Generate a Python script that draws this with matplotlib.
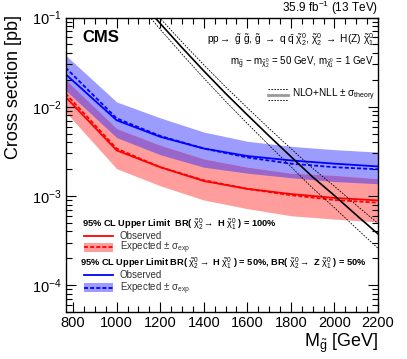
import numpy as np
import matplotlib
matplotlib.use("Agg")
import matplotlib.pyplot as plt
from matplotlib.ticker import MultipleLocator, LogLocator, NullFormatter, FixedLocator, FuncFormatter

plt.rcParams['font.family'] = ['Liberation Sans', 'DejaVu Sans']
plt.rcParams['mathtext.fontset'] = 'custom'
plt.rcParams['mathtext.rm'] = 'Liberation Sans'
plt.rcParams['mathtext.it'] = 'Liberation Sans'
plt.rcParams['mathtext.bf'] = 'Liberation Sans:bold'

# ---- data ----
mass = [765, 1000, 1200, 1400, 1600, 1800, 2000, 2200]

# BR(chi2 -> H chi1) = 100%  (red)
red_obs = [0.0129, 0.00324, 0.0021, 0.00147, 0.0012, 0.00105, 0.00095, 0.00089]
red_exp = [0.0141, 0.00339, 0.0021, 0.0015, 0.0012, 0.00102, 0.0009, 0.00084]
red_up = [0.0202, 0.00569, 0.0037, 0.0026, 0.0021, 0.0018, 0.0017, 0.00156]
red_dn = [0.00875, 0.00202, 0.0013, 0.0009, 0.00072, 0.0006, 0.00055, 0.00051]

# BR 50% / 50%  (blue)
blue_obs = [0.0232, 0.00705, 0.0046, 0.0034, 0.0028, 0.0025, 0.0023, 0.00214]
blue_exp = [0.0275, 0.0074, 0.0047, 0.0034, 0.0027, 0.0023, 0.0021, 0.00199]
blue_up = [0.0379, 0.0113, 0.0075, 0.0052, 0.0041, 0.0036, 0.0033, 0.0031]
blue_dn = [0.0153, 0.00451, 0.0029, 0.0021, 0.0018, 0.0016, 0.00145, 0.00137]

# gluino pair NLO+NLL cross section
th_mass = [1150, 1200, 1300, 1400, 1500, 1600, 1700, 1800, 1900, 2000, 2100, 2200]
th_xsec = [0.118, 0.0856, 0.0460, 0.0252, 0.0141, 0.0081, 0.0047, 0.00276, 0.00163, 0.00101, 0.000612, 0.000375]
th_unc = [0.13, 0.14, 0.155, 0.17, 0.185, 0.20, 0.215, 0.23, 0.25, 0.27, 0.29, 0.31]

x_ticks = [800, 1000, 1200, 1400, 1600, 1800, 2000, 2200]

# ---- figure ----
W, H = 407, 359
fig = plt.figure(figsize=(W / 100, H / 100), dpi=100)
L, R, T, B = 65.5, 378, 17.5, 312
ax = fig.add_axes([L / W, 1 - B / H, (R - L) / W, (B - T) / H])

m = np.array(mass, float)
rdn, rup = np.array(red_dn), np.array(red_up)
bdn, bup = np.array(blue_dn), np.array(blue_up)

c_blue_band = '#9c9cff'
c_red_band = '#ff9c9c'
c_overlap = '#9966cc'

ax.fill_between(m, bdn, bup, color=c_blue_band, lw=0)
ax.fill_between(m, rdn, rup, color=c_red_band, lw=0)
ov_lo = np.maximum(rdn, bdn)
ov_hi = np.minimum(rup, bup)
ax.fill_between(m, ov_lo, ov_hi, where=ov_hi > ov_lo, color=c_overlap, lw=0)

ax.plot(m, blue_exp, color='#0000ff', lw=1.3, ls=(0, (2.2, 1.2)))
ax.plot(m, blue_obs, color='#0000ff', lw=1.3)
ax.plot(m, red_exp, color='#ff0000', lw=1.3, ls=(0, (2.2, 1.2)))
ax.plot(m, red_obs, color='#ff0000', lw=1.3)

tm = np.array(th_mass, float)
tx = np.array(th_xsec)
tu = np.array(th_unc)
ax.plot(tm, tx, color='black', lw=1.2)
ax.plot(tm, tx * (1 + tu), color='black', lw=0.6, ls=(0, (2, 1.5)))
ax.plot(tm, tx * (1 - tu), color='black', lw=0.6, ls=(0, (2, 1.5)))

ax.set_yscale('log')
ax.set_xlim(765, 2200)
ax.set_ylim(5e-5, 0.1)

ax.xaxis.set_major_locator(FixedLocator(x_ticks))
ax.xaxis.set_minor_locator(MultipleLocator(50))
ax.yaxis.set_major_locator(LogLocator(base=10, numticks=10))
ax.yaxis.set_minor_locator(LogLocator(base=10, subs=np.arange(2, 10), numticks=20))
ax.yaxis.set_minor_formatter(NullFormatter())
ax.yaxis.set_major_formatter(FuncFormatter(lambda v, p: r'$10^{%d}$' % int(round(np.log10(v)))))
ax.tick_params(which='both', direction='in', top=True, right=True, labelsize=10.5, pad=3)
ax.tick_params(which='major', length=7, width=0.8)
ax.tick_params(which='minor', length=4, width=0.8)
for s in ax.spines.values():
    s.set_linewidth(1.0)

fig.text(14 / W, 1 - 15 / H, 'Cross section [pb]', rotation=90, ha='center', va='top', fontsize=13)
fig.text(R / W, 1 - 347 / H, r'M$_{\tilde{g}}$ [GeV]', ha='right', va='baseline', fontsize=13)
fig.text(R / W, 1 - 12 / H, r'35.9 fb$^{-1}$ (13 TeV)', ha='right', va='baseline', fontsize=8.5)

def tx_(x, y, s, **kw):
    fig.text(x / W, 1 - y / H, s, **kw)

tx_(82, 37, 'CMS', fontsize=12, fontweight='bold', va='center', ha='left')
tx_(374, 40, r'pp$\rightarrow$ $\tilde{g}$ $\tilde{g}$, $\tilde{g}$ $\rightarrow$ q $\bar{q}$ $\tilde{\chi}^0_2$, $\tilde{\chi}^0_2$ $\rightarrow$ H(Z) $\tilde{\chi}^0_1$',
    fontsize=7.3, ha='right', va='center')
tx_(374, 62, r'm$_{\tilde{g}}$ $-$ m$_{\tilde{\chi}^0_2}$ = 50 GeV, m$_{\tilde{\chi}^0_1}$ = 1 GeV',
    fontsize=7.0, ha='right', va='center')

# theory legend
for yy, ls, lw, col in [(89, (0, (2, 1.5)), 0.6, 'black'), (94.5, '-', 2.0, '#999999'), (99.5, (0, (2, 1.5)), 0.6, 'black')]:
    fig.add_artist(plt.Line2D([268 / W, 288 / W], [1 - yy / H, 1 - yy / H], color=col, lw=lw, ls=ls))
tx_(292, 94.5, r'NLO+NLL $\pm$ $\sigma_{\mathrm{theory}}$', fontsize=7.2, ha='left', va='center')

# bottom legend
tx_(81.5, 224, r'95% CL Upper Limit  BR( $\tilde{\chi}^0_2$$\rightarrow$ H $\tilde{\chi}^0_1$ ) = 100%',
    fontsize=6.7, fontweight='bold', ha='left', va='center')
tx_(80.5, 263, r'95% CL Upper Limit BR( $\tilde{\chi}^0_2$$\rightarrow$ H $\tilde{\chi}^0_1$ ) = 50%, BR( $\tilde{\chi}^0_2$$\rightarrow$ Z $\tilde{\chi}^0_1$ ) = 50%',
    fontsize=6.7, fontweight='bold', ha='left', va='center')

def legend_entry(y_obs, y_exp, col, band):
    fig.add_artist(plt.Line2D([84 / W, 113 / W], [1 - y_obs / H] * 2, color=col, lw=1.3))
    tx_(120, y_obs + 0.5, 'Observed', fontsize=7, ha='left', va='center', color='#333333')
    fig.add_artist(plt.Rectangle((84 / W, 1 - (y_exp + 4.5) / H), 29 / W, 9 / H, color=band, lw=0))
    fig.add_artist(plt.Line2D([84 / W, 113 / W], [1 - y_exp / H] * 2, color=col, lw=1.3, ls=(0, (2.2, 1.2))))
    tx_(120, y_exp + 1, r'Expected $\pm$ $\sigma_{\mathrm{exp}}$', fontsize=7, ha='left', va='center', color='#333333')

legend_entry(235.5, 247, '#ff0000', c_red_band)
legend_entry(274.5, 287.5, '#0000ff', c_blue_band)

fig.savefig('out.png', dpi=100)
